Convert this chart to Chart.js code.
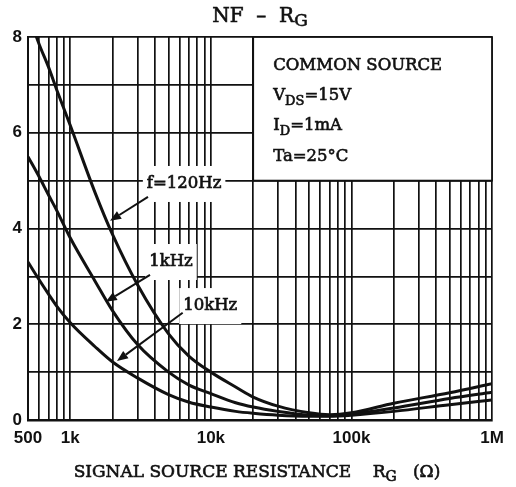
<!DOCTYPE html>
<html>
<head>
<meta charset="utf-8">
<script src="https://cdn.jsdelivr.net/npm/chart.js@4.4.1/dist/chart.umd.min.js"></script>
<style>
  html, body { margin: 0; padding: 0; background: #fff; }
  #grafica { display: block; }
</style>
</head>
<body>
<canvas id="grafica" width="516" height="487"></canvas>
<script>
// signal source resistance (ohm)
var resistencias = [500, 600, 700, 800, 1000, 1500, 2000, 3000, 5000, 7000, 10000,
                    15000, 20000, 30000, 50000, 70000, 100000, 200000, 500000, 1000000];
// NF (dB) por frecuencia
var nf120Hz = [8.5, 7.85, 7.37, 6.9, 6.15, 4.75, 3.87, 2.83, 1.8, 1.33, 1.0,
               0.69, 0.48, 0.29, 0.15, 0.11, 0.15, 0.35, 0.57, 0.76];
var nf1kHz  = [5.5, 5.08, 4.7, 4.38, 3.8, 2.9, 2.28, 1.58, 1.0, 0.73, 0.55,
               0.36, 0.27, 0.18, 0.1, 0.09, 0.12, 0.25, 0.45, 0.58];
var nf10kHz = [3.3, 2.93, 2.63, 2.38, 2.03, 1.53, 1.21, 0.88, 0.53, 0.37, 0.27,
               0.18, 0.14, 0.1, 0.08, 0.08, 0.1, 0.18, 0.32, 0.42];

var xGrid = [500, 600, 700, 800, 900, 1000, 2000, 3000, 4000, 5000, 6000, 7000, 8000, 9000,
             10000, 20000, 30000, 40000, 50000, 60000, 70000, 80000, 90000,
             100000, 200000, 300000, 400000, 500000, 600000, 700000, 800000, 900000, 1000000];
var xLabels = {500: '500', 1000: '1k', 10000: '10k', 100000: '100k', 1000000: '1M'};
var yLabels = ['0', '2', '4', '6', '8'];

// etiquetas de curvas (en unidades de datos)
var etiquetas = [
  {texto: 'f=120Hz', x: 6450, y: 4.93, desde: [3570, 4.66], hasta: [1917, 4.16]},
  {texto: '1kHz',    x: 5200, y: 3.30, desde: [3690, 3.03], hasta: [1790, 2.47]},
  {texto: '10kHz',   x: 9900, y: 2.38, desde: [6300, 2.24], hasta: [2149, 1.23]}
];

var negro = '#111';
var serif = '"DejaVu Serif", "Liberation Serif", serif';

function puntos(valores) {
  return resistencias.map(function (r, i) { return {x: r, y: valores[i]}; });
}

function serie(valores) {
  return {
    data: puntos(valores),
    borderColor: negro,
    borderWidth: 3,
    pointRadius: 0,
    cubicInterpolationMode: 'monotone',
    fill: false
  };
}

// texto un poco mas grueso, como el original
function texto(ctx, s, x, y) {
  ctx.fillText(s, x, y);
  ctx.strokeText(s, x, y);
}

// dibuja texto con subindices: partes = [[texto, fuente, dy]]
function textoPartes(ctx, x, y, partes) {
  partes.forEach(function (p) {
    ctx.font = p[1];
    texto(ctx, p[0], x, y + (p[2] || 0));
    x += ctx.measureText(p[0]).width;
  });
}
function anchoPartes(ctx, partes) {
  var w = 0;
  partes.forEach(function (p) { ctx.font = p[1]; w += ctx.measureText(p[0]).width; });
  return w;
}

function flecha(ctx, x1, y1, x2, y2) {
  var ang = Math.atan2(y2 - y1, x2 - x1);
  var largo = 11, ancho = 4.5;
  var bx = x2 - largo * Math.cos(ang), by = y2 - largo * Math.sin(ang);
  ctx.beginPath();
  ctx.moveTo(x1, y1);
  ctx.lineTo(bx, by);
  ctx.lineWidth = 2;
  ctx.strokeStyle = negro;
  ctx.stroke();
  ctx.beginPath();
  ctx.moveTo(x2, y2);
  ctx.lineTo(bx + ancho * Math.sin(ang), by - ancho * Math.cos(ang));
  ctx.lineTo(bx - ancho * Math.sin(ang), by + ancho * Math.cos(ang));
  ctx.closePath();
  ctx.fillStyle = negro;
  ctx.fill();
}

var anotaciones = {
  id: 'anotaciones',
  beforeDatasetsDraw: function (chart) {
    var ctx = chart.ctx, xs = chart.scales.x, ys = chart.scales.y;
    ctx.save();
    // cuadro de condiciones
    var x0 = xs.getPixelForValue(20000), x1 = xs.getPixelForValue(1000000);
    var y0 = ys.getPixelForValue(8), y1 = ys.getPixelForValue(5);
    ctx.fillStyle = '#fff';
    ctx.fillRect(x0, y0, x1 - x0, y1 - y0);
    ctx.strokeStyle = negro;
    ctx.lineWidth = 1.8;
    ctx.strokeRect(x0, y0, x1 - x0, y1 - y0);
    ctx.fillStyle = negro;
    ctx.lineWidth = 0.6;
    ctx.textAlign = 'left';
    ctx.textBaseline = 'alphabetic';
    var f = '16.5px ' + serif, fs = '13px ' + serif;
    var tx = x0 + 20;
    textoPartes(ctx, tx, y0 + 33, [['COMMON SOURCE', f]]);
    textoPartes(ctx, tx, y0 + 63, [['V', f], ['DS', fs, 5], ['=15V', f]]);
    textoPartes(ctx, tx, y0 + 93, [['I', f], ['D', fs, 5], ['=1mA', f]]);
    textoPartes(ctx, tx, y0 + 124, [['Ta=25°C', f]]);

    // fondos blancos de etiquetas
    ctx.font = '16.5px ' + serif;
    etiquetas.forEach(function (e) {
      var cx = xs.getPixelForValue(e.x), cy = ys.getPixelForValue(e.y);
      var w = ctx.measureText(e.texto).width + 8;
      ctx.fillStyle = '#fff';
      ctx.fillRect(cx - w / 2, cy - 18, w, 36);
    });
    ctx.restore();
  },
  afterDatasetsDraw: function (chart) {
    var ctx = chart.ctx, xs = chart.scales.x, ys = chart.scales.y;
    ctx.save();
    ctx.textAlign = 'center';
    ctx.textBaseline = 'middle';
    etiquetas.forEach(function (e) {
      var cx = xs.getPixelForValue(e.x), cy = ys.getPixelForValue(e.y);
      ctx.font = '16.5px ' + serif;
      ctx.fillStyle = negro;
      ctx.strokeStyle = negro;
      ctx.lineWidth = 0.7;
      texto(ctx, e.texto, cx, cy);
      flecha(ctx, xs.getPixelForValue(e.desde[0]), ys.getPixelForValue(e.desde[1]),
                  xs.getPixelForValue(e.hasta[0]), ys.getPixelForValue(e.hasta[1]));
    });

    ctx.fillStyle = negro;
    ctx.strokeStyle = negro;
    ctx.lineWidth = 0.6;
    // titulo
    ctx.textAlign = 'left';
    ctx.textBaseline = 'alphabetic';
    var ft = '20px ' + serif, fts = '17px ' + serif;
    var tit = [['NF  –  R', ft], ['G', fts, 4]];
    var wt = anchoPartes(ctx, tit);
    textoPartes(ctx, 260 - wt / 2, 22, tit);

    // titulo eje x
    var fx = '17px ' + serif, fxs = '14px ' + serif;
    var tx = [['SIGNAL SOURCE RESISTANCE    R', fx], ['G', fxs, 4], ['   (Ω)', fx]];
    var wx = anchoPartes(ctx, tx);
    textoPartes(ctx, 257 - wx / 2, 477, tx);
    ctx.restore();
  }
};

var mychart = new Chart(document.getElementById('grafica'), {
  type: 'line',
  data: {
    datasets: [serie(nf120Hz), serie(nf1kHz), serie(nf10kHz)]
  },
  options: {
    responsive: false,
    animation: false,
    devicePixelRatio: 1,
    layout: { padding: { top: 37, right: 24, left: 0, bottom: 0 } },
    plugins: { legend: { display: false }, tooltip: { enabled: false }, title: { display: false } },
    scales: {
      x: {
        type: 'logarithmic',
        min: 500,
        max: 1000000,
        afterBuildTicks: function (s) {
          s.ticks = xGrid.map(function (v) { return {value: v}; });
        },
        afterFit: function (s) { s.height = 67; },
        ticks: {
          autoSkip: false,
          maxRotation: 0,
          padding: 8,
          color: negro,
          font: { family: '"Liberation Sans", Arial, sans-serif', size: 17, weight: 'bold' },
          callback: function (v) { return xLabels[v] || ''; }
        },
        grid: { color: negro, lineWidth: 1.7, drawTicks: false },
        border: { color: negro, width: 2.4 }
      },
      y: {
        min: 0,
        max: 8,
        afterFit: function (s) { s.width = 28; },
        ticks: {
          stepSize: 1,
          padding: 6,
          color: negro,
          font: { family: '"Liberation Sans", Arial, sans-serif', size: 17, weight: 'bold' },
          callback: function (v) { return v % 2 === 0 ? yLabels[v / 2] : ''; }
        },
        grid: { color: negro, lineWidth: 1.7, drawTicks: false },
        border: { color: negro, width: 2 }
      }
    }
  },
  plugins: [anotaciones]
});
</script>
</body>
</html>
